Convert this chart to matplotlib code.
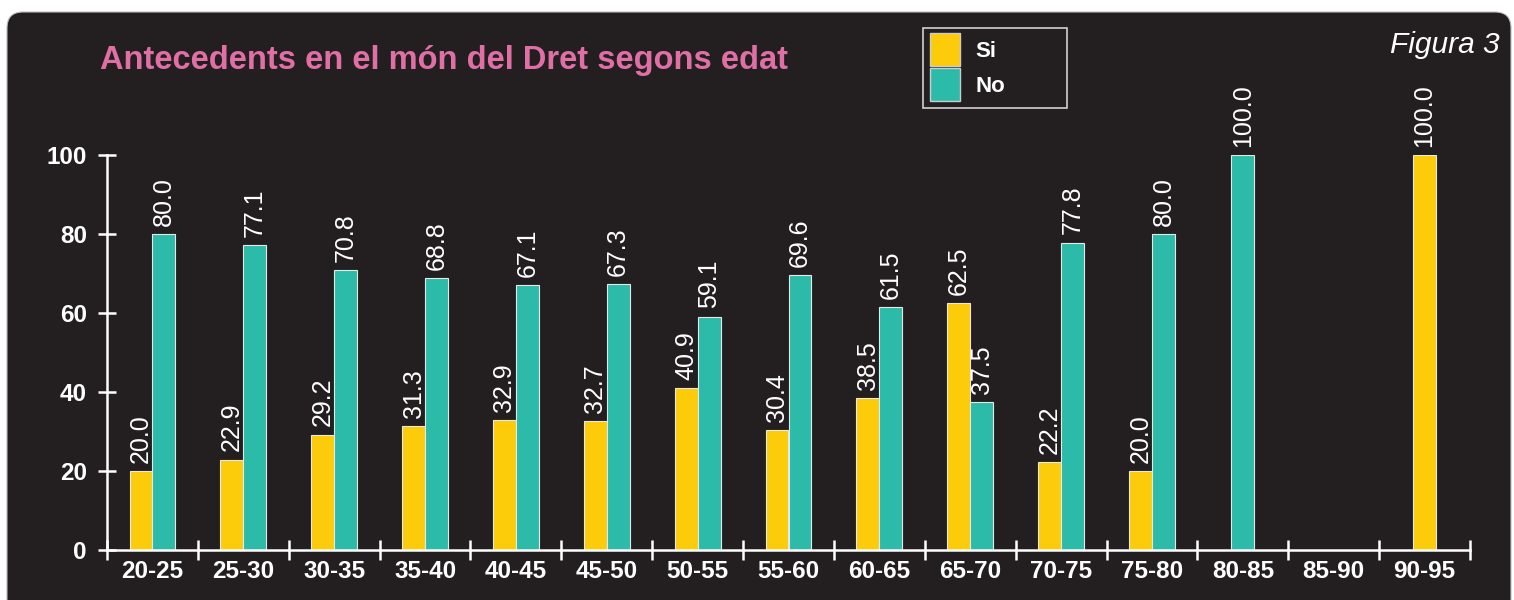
import matplotlib
matplotlib.use("Agg")
from matplotlib import pyplot as plt
from matplotlib.patches import FancyBboxPatch, Rectangle, Patch
import numpy as np

plt.rcParams['font.family'] = ['Liberation Sans', 'DejaVu Sans']

# dades
edats = ["20-25", "25-30", "30-35", "35-40", "40-45", "45-50", "50-55", "55-60",
         "60-65", "65-70", "70-75", "75-80", "80-85", "85-90", "90-95"]
si = [20.0, 22.9, 29.2, 31.3, 32.9, 32.7, 40.9, 30.4, 38.5, 62.5, 22.2, 20.0, None, None, 100.0]
no = [80.0, 77.1, 70.8, 68.8, 67.1, 67.3, 59.1, 69.6, 61.5, 37.5, 77.8, 80.0, 100.0, None, None]
yticks = [0, 20, 40, 60, 80, 100]

fons = '#231f20'
groc = '#fccb0a'
verd = '#2bbba8'
rosa = '#e06fa6'

fig = plt.figure(figsize=(15.14, 6), dpi=100)
fig.patch.set_facecolor('white')

# panell fosc arrodonit
panell = FancyBboxPatch((0.07, -0.3), 15.04, 6.18,
                        boxstyle="round,pad=0,rounding_size=0.16",
                        transform=fig.dpi_scale_trans, facecolor=fons,
                        edgecolor='#bbbbbb', linewidth=0.8, zorder=-5)
fig.patches.append(panell)

ax = fig.add_axes([107 / 1514, 50 / 600, 1363 / 1514, 395 / 600])
ax.set_facecolor('none')
ax.set_zorder(2)

w = 0.252
for i, (s, n) in enumerate(zip(si, no)):
    centre = i + 0.5
    presents = [(v, c) for v, c in ((s, groc), (n, verd)) if v is not None]
    k = len(presents)
    for j, (v, c) in enumerate(presents):
        x = centre + (j - (k - 1) / 2) * w
        ax.bar(x, v, width=w, color=c, edgecolor='#e8e8e8', linewidth=0.8)
        ax.annotate(f"{v:.1f}", xy=(x, v), xytext=(0, 6), textcoords='offset points',
                    rotation=90, ha='center', va='bottom', color='white',
                    fontsize=18, annotation_clip=False)

ax.set_xlim(0, len(edats))
ax.set_ylim(0, 100)
ax.set_xticks(np.arange(len(edats) + 1))
ax.set_xticklabels([])
ax.set_xticks(np.arange(len(edats)) + 0.5, minor=True)
ax.set_xticklabels(edats, minor=True)
ax.set_yticks(yticks)

for sp in ['top', 'right']:
    ax.spines[sp].set_visible(False)
for sp in ['left', 'bottom']:
    ax.spines[sp].set_color('white')
    ax.spines[sp].set_linewidth(1.8)

ax.tick_params(axis='x', which='major', direction='inout', length=15, width=1.8, color='white')
ax.tick_params(axis='x', which='minor', length=0, pad=7, labelsize=17.5, labelcolor='white')
ax.tick_params(axis='y', direction='inout', length=13, width=1.8, color='white',
               labelsize=17.5, labelcolor='white', pad=8)

for t in ax.get_xticklabels(minor=True) + ax.get_yticklabels():
    t.set_fontweight('bold')

# títol i figura
fig.text(100 / 1514, 1 - 60 / 600, "Antecedents en el món del Dret segons edat",
         color=rosa, fontsize=23.5, fontweight='bold', va='center', ha='left')
fig.text(1500 / 1514, 1 - 45 / 600, "Figura 3", color='white', fontsize=21.5,
         style='italic', va='center', ha='right')

# llegenda
fig.patches.append(Rectangle((923 / 1514, 1 - 108 / 600), 144 / 1514, 80 / 600,
                             transform=fig.transFigure, facecolor='none',
                             edgecolor='#d0d0d0', linewidth=1.2))
handles = [Patch(facecolor=groc, edgecolor='#cccccc', label='Si'),
           Patch(facecolor=verd, edgecolor='#cccccc', label='No')]
fig.legend(handles=handles, loc='upper left', bbox_to_anchor=(917 / 1514, 1 - 20 / 600),
           frameon=False, labelcolor='white', handlelength=1.35,
           handleheight=1.9, labelspacing=0.1, handletextpad=0.68, borderpad=0.1,
           prop={'weight': 'bold', 'size': 16})

fig.savefig("out.png", dpi=100, facecolor=fig.get_facecolor())
